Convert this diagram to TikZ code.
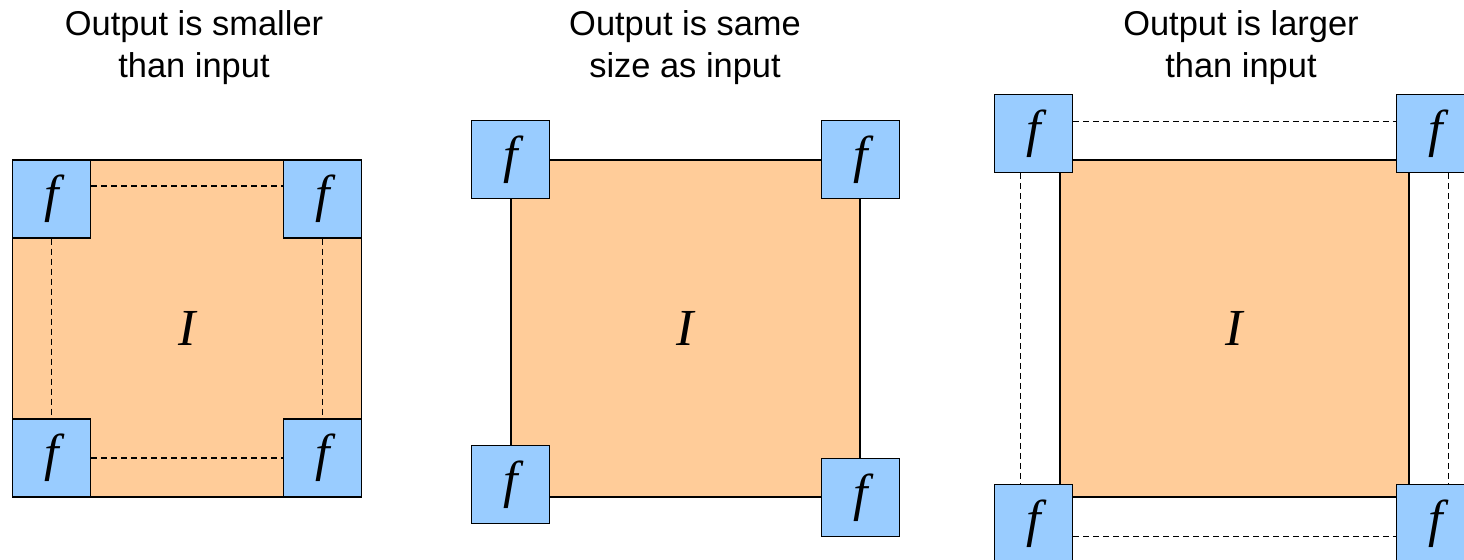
\documentclass[tikz,border=0pt]{standalone}
\usepackage{fontspec}
\setmainfont{Liberation Sans}
\newfontfamily\timesfont{Liberation Serif}
\usepackage{tikz}
\usetikzlibrary{positioning}
\definecolor{imgfill}{RGB}{255,204,153}
\definecolor{filtfill}{RGB}{153,204,255}
\tikzset{
  img/.style={
    rectangle, draw, fill=imgfill, line width=0.75pt,
    minimum width=6.98cm, minimum height=6.74cm, inner sep=0pt,
    font=\timesfont\itshape\fontsize{29.6}{30}\selectfont
  },
  filt/.style={
    rectangle, draw, fill=filtfill, line width=0.75pt,
    minimum size=1.56cm, inner sep=0pt,
    font=\timesfont\itshape\fontsize{29.6}{30}\selectfont
  },
  dsh/.style={dash pattern=on 0.12cm off 0.08cm, line width=0.7pt},
  ttl/.style={align=center, font=\fontsize{19.6}{23.9}\selectfont}
}
\begin{document}
\begin{tikzpicture}[x=0.02cm, y=-0.02cm]

  \path[use as bounding box, clip] (0,0) rectangle (1464,559);

  %% ── smaller ──────────────────────────────────────────────
  \node[ttl] (t1) at (194,48) {Output is smaller\\than input};
  \node[img] (in1) at (187,328.5) {I};
  \node[filt, anchor=north west] (tl1) at (in1.north west) {f};
  \node[filt, anchor=north east] (tr1) at (in1.north east) {f};
  \node[filt, anchor=south west] (bl1) at (in1.south west) {f};
  \node[filt, anchor=south east] (br1) at (in1.south east) {f};

  \draw[dsh] ([yshift=0.26cm]tl1.east) -- ([yshift=0.26cm]tr1.west);
  \draw[dsh] (tl1.south) -- (bl1.north);
  \draw[dsh] (tr1.south) -- (br1.north);
  \draw[dsh] (bl1.east) -- (br1.west);

  %% ── same ─────────────────────────────────────────────────
  \node[ttl] (t2) at (685,48) {Output is same\\size as input};
  \node[img] (in2) at (685.5,328.5) {I};
  \node[filt] (tl2) at (in2.north west) {f};
  \node[filt] (tr2) at (in2.north east) {f};
  \node[filt] (bl2) at ([yshift=0.26cm]in2.south west) {f};
  \node[filt] (br2) at (in2.south east) {f};

  %% ── larger ───────────────────────────────────────────────
  \node[ttl] (t3) at (1241,48) {Output is larger\\than input};
  \node[img] (in3) at (1234.5,328.5) {I};
  \node[filt] (tl3) at ([shift={(-0.52cm,0.52cm)}]in3.north west) {f};
  \node[filt] (tr3) at ([shift={(0.52cm,0.52cm)}]in3.north east) {f};
  \node[filt] (bl3) at ([shift={(-0.52cm,-0.52cm)}]in3.south west) {f};
  \node[filt] (br3) at ([shift={(0.52cm,-0.52cm)}]in3.south east) {f};

  \draw[dsh] ([yshift=0.24cm]tl3.east) -- ([yshift=0.24cm]tr3.west);
  \draw[dsh] ([xshift=-0.26cm]tl3.south) -- ([xshift=-0.26cm]bl3.north);
  \draw[dsh] ([xshift=0.26cm]tr3.south) -- ([xshift=0.26cm]br3.north);
  \draw[dsh] ([yshift=-0.26cm]bl3.east) -- ([yshift=-0.26cm]br3.west);

\end{tikzpicture}
\end{document}
